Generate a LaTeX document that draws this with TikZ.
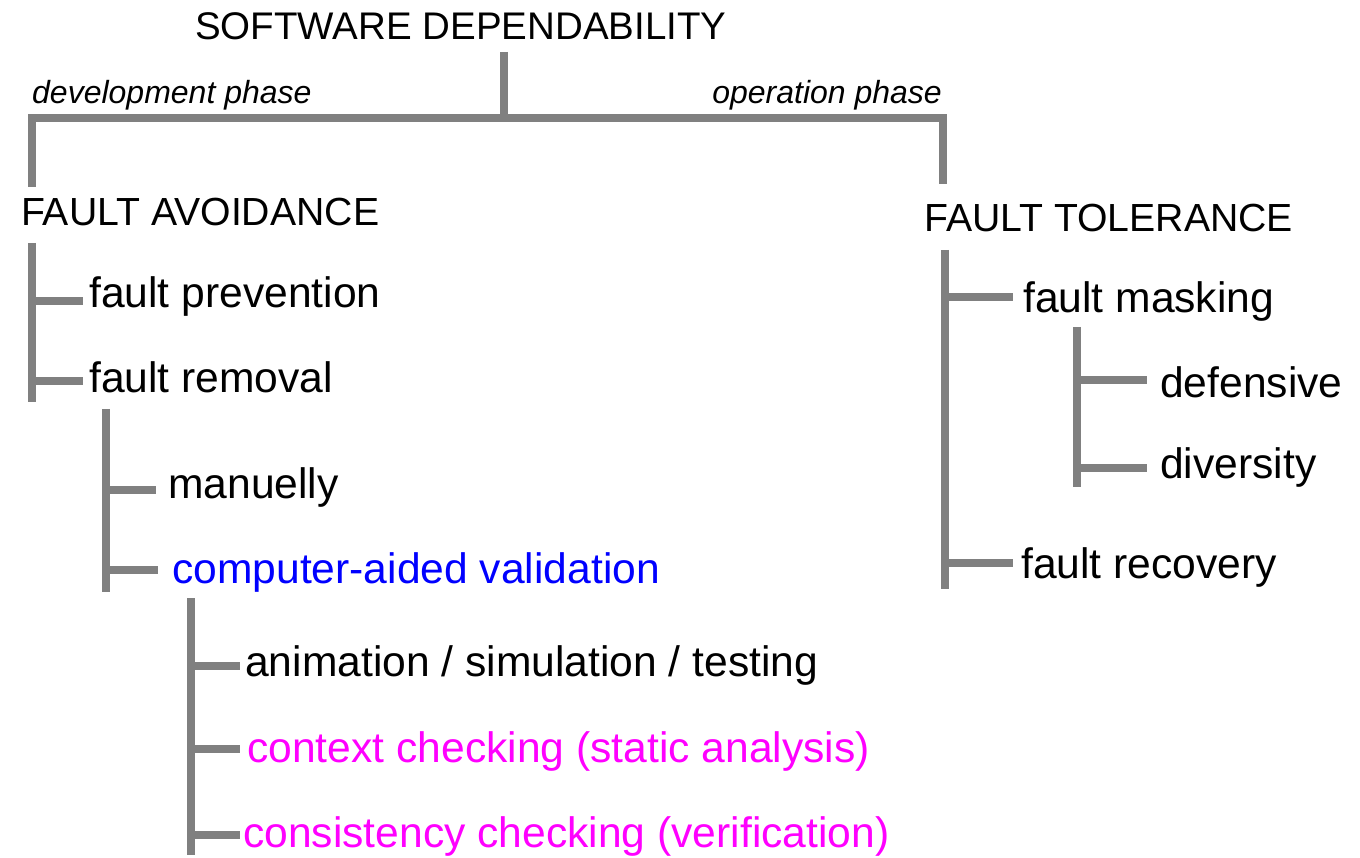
\documentclass[tikz,border=0pt]{standalone}
\usepackage{fontspec}
\setmainfont{Liberation Sans}
\definecolor{treegray}{HTML}{808080}
\definecolor{cavblue}{HTML}{0000FF}
\definecolor{chkmagenta}{HTML}{FF00FF}
\begin{document}
\begin{tikzpicture}[x=1pt,y=-1pt,
  branch/.style={draw=treegray, line width=8.5pt, line join=miter},
  item/.style={anchor=base west, inner sep=0pt, font=\fontsize{42.6}{48}\selectfont},
  heading/.style={anchor=base west, inner sep=0pt, font=\fontsize{39.2}{44}\selectfont},
  phase/.style={inner sep=0pt, font=\fontsize{32}{36}\selectfont\itshape}]
\useasboundingbox (0,0) rectangle (1360,858);

% texts
\node[heading, font=\fontsize{38.5}{44}\selectfont] (root) at (195,40) {SOFTWARE DEPENDABILITY};
\node[phase, anchor=base west] (dev) at (32,104) {development phase};
\node[phase, anchor=base east] (op) at (942,104) {operation phase};
\node[heading] (fa) at (21,226) {FAULT AVOIDANCE};
\node[heading] (ft) at (924,232) {FAULT TOLERANCE};
\node[item] (prev) at (89,308) {fault prevention};
\node[item] (rem) at (89,393) {fault removal};
\node[item] (man) at (168,498) {manuelly};
\node[item, text=cavblue] (cav) at (172,583) {computer-aided validation};
\node[item] (anim) at (245,676) {animation / simulation / testing};
\node[item, text=chkmagenta] (ctx) at (247,762) {context checking (static analysis)};
\node[item, text=chkmagenta] (cons) at (243,847) {consistency checking (verification)};
\node[item] (mask) at (1023,313) {fault masking};
\node[item] (rec) at (1021,578) {fault recovery};
\node[item] (def) at (1160,398) {defensive};
\node[item] (div) at (1160,478) {diversity};

% junction points
\coordinate (stemtop) at (504,52);
\coordinate (stembot) at (504,118);
\coordinate (barL) at (32,118);
\coordinate (barR) at (943,118);
\coordinate (dropL) at (32,187);
\coordinate (dropR) at (943,184);

\coordinate (faT) at (32,243);   \coordinate (faB) at (32,402);
\coordinate (faP) at (83,301);   \coordinate (faR) at (83,381);
\coordinate (frT) at (106,409);  \coordinate (frB) at (106,592);
\coordinate (frM) at (156,490);  \coordinate (frC) at (158,570);
\coordinate (cvT) at (191,598);  \coordinate (cvB) at (191,855);
\coordinate (cvA) at (240,666);  \coordinate (cvX) at (240,749);
\coordinate (cvS) at (240,835);
\coordinate (ftT) at (945,250);  \coordinate (ftB) at (945,589);
\coordinate (ftM) at (1013,297); \coordinate (ftR) at (1013,563);
\coordinate (fmT) at (1077,327); \coordinate (fmB) at (1077,487);
\coordinate (fmD) at (1147,380); \coordinate (fmV) at (1147,468);

% top level
\draw[branch] (stemtop) -- (stembot);
\draw[branch] (dropL) -- (barL) -- (barR) -- (dropR);

% fault avoidance
\draw[branch] (faT) -- (faB);
\draw[branch] (faT |- faP) -- (faP);
\draw[branch] (faT |- faR) -- (faR);

% fault removal
\draw[branch] (frT) -- (frB);
\draw[branch] (frT |- frM) -- (frM);
\draw[branch] (frT |- frC) -- (frC);

% computer-aided validation
\draw[branch] (cvT) -- (cvB);
\draw[branch] (cvT |- cvA) -- (cvA);
\draw[branch] (cvT |- cvX) -- (cvX);
\draw[branch] (cvT |- cvS) -- (cvS);

% fault tolerance
\draw[branch] (ftT) -- (ftB);
\draw[branch] (ftT |- ftM) -- (ftM);
\draw[branch] (ftT |- ftR) -- (ftR);

% fault masking
\draw[branch] (fmT) -- (fmB);
\draw[branch] (fmT |- fmD) -- (fmD);
\draw[branch] (fmT |- fmV) -- (fmV);
\end{tikzpicture}
\end{document}
